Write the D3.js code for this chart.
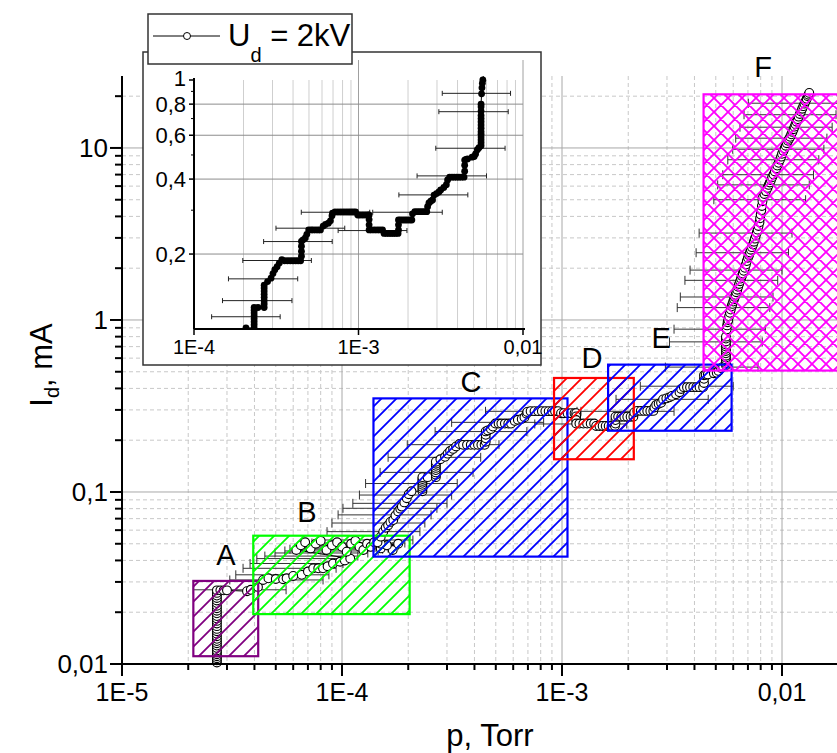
<!DOCTYPE html>
<html><head><meta charset="utf-8">
<script src="https://cdn.jsdelivr.net/npm/d3@7"></script>
<style>body{margin:0;background:#fff} svg text{font-family:"Liberation Sans",Arial,sans-serif;fill:#000}</style>
</head><body><svg id="c" width="837" height="753"></svg>
<script>
// ---------- DATA ----------
const pTorr = [
 2.7e-5,2.7e-5,2.7e-5,2.7e-5,2.7e-5,2.7e-5,2.7e-5,2.7e-5,2.7e-5,2.7e-5,2.7e-5,2.7e-5,2.7e-5,2.7e-5,2.7e-5,2.7e-5,
 2.7e-5,2.7e-5,2.7e-5,2.7e-5,2.7e-5,2.7e-5,2.7e-5,2.7e-5,2.7e-5,2.7e-5,2.7e-5,2.7e-5,2.7e-5,2.7e-5,2.7e-5,
 2.8e-5,2.9e-5,3.0e-5,3.7e-5,3.85e-5,4.15e-5,4.38e-5,4.63e-5,5.0e-5,5.4e-5,5.6e-5,6.0e-5,6.56e-5,7.0e-5,7.4e-5,7.8e-5,8.2e-5,8.6e-5,9.1e-5,9.8e-5,1.03e-4,1.09e-4,
 6.2e-5,6.5e-5,6.8e-5,7.2e-5,7.6e-5,8.0e-5,8.5e-5,9.0e-5,9.5e-5,1.0e-4,1.05e-4,1.1e-4,1.15e-4,1.2e-4,1.25e-4,1.3e-4,1.35e-4,1.4e-4,1.5e-4,1.6e-4,1.7e-4,1.8e-4,1.6e-4,1.5e-4,
 1.45e-4,1.5e-4,1.54e-4,1.58e-4,1.62e-4,1.66e-4,1.71e-4,1.75e-4,1.8e-4,1.84e-4,1.87e-4,1.92e-4,1.97e-4,2.01e-4,2.07e-4,
 2.32e-4,2.32e-4,2.32e-4,2.32e-4,2.32e-4,2.32e-4,2.32e-4,2.32e-4,
 2.45e-4,2.67e-4,2.67e-4,2.67e-4,2.67e-4,2.67e-4,2.67e-4,2.67e-4,2.67e-4,
 2.8e-4,2.94e-4,3.02e-4,3.1e-4,3.2e-4,3.3e-4,3.42e-4,
 3.55e-4,3.7e-4,3.85e-4,4.0e-4,4.15e-4,4.3e-4,4.45e-4,
 4.5e-4,4.5e-4,4.5e-4,4.5e-4,
 4.6e-4,4.75e-4,4.85e-4,4.98e-4,
 5.15e-4,5.3e-4,5.5e-4,5.7e-4,5.87e-4,
 6.1e-4,6.3e-4,6.56e-4,6.75e-4,6.9e-4,6.95e-4,
 7.2e-4,7.5e-4,7.8e-4,8.1e-4,8.4e-4,8.7e-4,9.0e-4,9.3e-4,9.6e-4,
 9.9e-4,1.02e-3,1.06e-3,1.1e-3,1.14e-3,1.16e-3,
 1.16e-3,1.16e-3,1.16e-3,
 1.2e-3,1.25e-3,1.3e-3,1.35e-3,1.4e-3,
 1.43e-3,1.48e-3,1.53e-3,1.58e-3,1.63e-3,1.68e-3,1.74e-3,
 1.75e-3,1.75e-3,1.75e-3,
 1.8e-3,1.86e-3,1.92e-3,1.98e-3,2.05e-3,2.11e-3,
 2.13e-3,2.2e-3,2.28e-3,2.36e-3,2.44e-3,2.52e-3,2.6e-3,
 2.63e-3,2.68e-3,2.75e-3,2.82e-3,2.88e-3,2.98e-3,3.08e-3,3.16e-3,3.3e-3,3.42e-3,3.48e-3,
 3.58e-3,3.7e-3,3.82e-3,3.95e-3,4.08e-3,4.22e-3,4.38e-3,
 4.42e-3,4.42e-3,4.42e-3,4.5e-3,4.6e-3,4.9e-3,5.05e-3,5.15e-3,5.28e-3,5.4e-3,
 5.56e-3,5.56e-3,5.56e-3,5.56e-3,5.56e-3,5.56e-3,5.56e-3,5.56e-3,5.56e-3,5.56e-3,5.56e-3,5.56e-3,5.56e-3,5.56e-3,
 5.6e-3,5.63e-3,5.66e-3,
 5.7e-3,5.75e-3,5.8e-3,5.85e-3,5.9e-3,5.95e-3,6.0e-3,6.05e-3,6.1e-3,6.15e-3,6.2e-3,6.26e-3,6.32e-3,6.38e-3,6.45e-3,6.51e-3,
 6.57e-3,6.63e-3,6.7e-3,6.78e-3,6.85e-3,6.92e-3,7.0e-3,7.08e-3,7.15e-3,7.22e-3,7.3e-3,7.38e-3,7.45e-3,7.52e-3,7.6e-3,7.68e-3,
 7.75e-3,7.82e-3,7.9e-3,7.95e-3,8.0e-3,8.05e-3,8.1e-3,8.15e-3,8.2e-3,8.32e-3,8.45e-3,8.58e-3,8.7e-3,8.8e-3,8.9e-3,9.02e-3,
 9.15e-3,9.28e-3,9.4e-3,9.52e-3,9.65e-3,9.78e-3,9.9e-3,1.0e-2,1.015e-2,1.028e-2,1.04e-2,1.052e-2,1.065e-2,1.078e-2,1.09e-2,1.102e-2,
 1.115e-2,1.128e-2,1.14e-2,1.152e-2,1.165e-2,1.178e-2,1.19e-2,1.205e-2,1.22e-2,1.235e-2,1.25e-2,1.265e-2,1.28e-2,1.295e-2,1.31e-2,1.32e-2,1.33e-2
];
const IdmA = [
 0.0102,0.0105,0.0108,0.0111,0.0114,0.0117,0.012,0.0124,0.0128,0.0132,0.0136,0.014,0.0145,0.015,0.0155,0.016,
 0.0166,0.0172,0.0178,0.0184,0.019,0.0197,0.0204,0.0211,0.0218,0.0226,0.0234,0.0242,0.025,0.0259,0.0268,
 0.0268,0.0268,0.0268,0.0265,0.027,0.028,0.0308,0.0315,0.0312,0.0311,0.0315,0.0325,0.033,0.0345,0.036,0.036,0.036,0.037,0.0384,0.0393,0.04,0.041,
 0.046,0.049,0.051,0.047,0.05,0.052,0.046,0.049,0.051,0.048,0.045,0.05,0.052,0.048,0.046,0.05,0.048,0.051,0.047,0.049,0.046,0.05,0.049,0.05,
 0.051,0.055,0.0588,0.062,0.064,0.067,0.0687,0.073,0.077,0.08,0.0822,0.087,0.092,0.097,0.101,
 0.101,0.104,0.107,0.11,0.113,0.116,0.119,0.122,
 0.122,0.122,0.126,0.13,0.134,0.138,0.142,0.146,0.15,
 0.155,0.16,0.167,0.173,0.178,0.184,0.19,
 0.188,0.188,0.188,0.188,0.188,0.188,0.188,
 0.196,0.205,0.215,0.225,
 0.228,0.232,0.24,0.25,
 0.25,0.25,0.25,0.25,0.25,
 0.259,0.263,0.266,0.272,0.285,0.292,
 0.295,0.295,0.295,0.295,0.295,0.295,0.295,0.295,0.295,
 0.287,0.287,0.287,0.287,0.287,0.287,
 0.275,0.262,0.25,
 0.25,0.25,0.25,0.25,0.25,
 0.242,0.242,0.242,0.242,0.242,0.242,0.242,
 0.25,0.262,0.274,
 0.274,0.274,0.274,0.274,0.274,0.274,
 0.29,0.296,0.296,0.296,0.296,0.296,0.296,
 0.31,0.321,0.326,0.33,0.345,0.35,0.355,0.362,0.37,0.38,0.397,
 0.407,0.407,0.407,0.407,0.407,0.407,0.407,
 0.43,0.455,0.477,0.48,0.482,0.49,0.493,0.505,0.525,0.535,
 0.545,0.56,0.575,0.59,0.605,0.62,0.64,0.66,0.68,0.7,0.72,0.75,0.78,0.8,
 0.88,0.93,0.97,
 1.0,1.05,1.1,1.15,1.2,1.24,1.28,1.32,1.36,1.4,1.45,1.5,1.56,1.62,1.68,1.74,
 1.8,1.86,1.93,2.01,2.1,2.2,2.3,2.38,2.47,2.56,2.65,2.75,2.85,2.97,3.1,3.22,
 3.35,3.52,3.7,3.9,4.1,4.35,4.6,4.9,5.2,5.4,5.6,5.85,6.1,6.3,6.5,6.75,
 7.0,7.3,7.6,7.9,8.2,8.55,8.9,9.25,9.6,9.95,10.3,10.65,11.0,11.3,11.6,12.0,
 12.4,12.85,13.3,13.75,14.2,14.7,15.2,15.75,16.3,16.9,17.5,18.1,18.7,19.3,20.0,20.4,20.9
];
// horizontal error bars: current level, pressure low, pressure high
const errI  = [0.027,0.0308,0.033,0.036,0.0384,0.041,0.0424,0.0442,0.0454,0.0465,0.0472,0.048,0.049,0.0505,0.0526,0.0588,0.066,0.0736,0.0804,0.0859,0.096,
  0.112,0.130,0.159,0.1884,0.2245,0.254,0.2944,0.2485,0.2944,0.3456,0.412,0.532,0.746,0.884,
  1.18,1.36,1.7,1.95,2.46,3.2,5.0,6.1,6.99,8.54,9.83,11.4,13.2,15.6,18.2];
const errPlo = [2.11e-5,3.09e-5,3.29e-5,3.55e-5,3.82e-5,4.1e-5,4.46e-5,4.96e-5,5.5e-5,5.8e-5,6.1e-5,6.4e-5,6.8e-5,7.3e-5,7.95e-5,8.55e-5,9.0e-5,9.6e-5,1.01e-4,1.12e-4,1.2e-4,
  1.28e-4,1.49e-4,1.62e-4,1.98e-4,2.65e-4,3.15e-4,4.49e-4,7.52e-4,1.22e-3,1.76e-3,2.27e-3,2.95e-3,3.08e-3,3.23e-3,
  3.34e-3,3.45e-3,3.62e-3,3.82e-3,4.07e-3,4.2e-3,4.9e-3,5.1e-3,5.38e-3,5.67e-3,5.97e-3,6.16e-3,6.44e-3,6.72e-3,7.03e-3];
const errPhi = [5.57e-5,8.2e-5,8.72e-5,9.4e-5,1.01e-4,1.09e-4,1.18e-4,1.31e-4,1.46e-4,1.53e-4,1.62e-4,1.7e-4,1.8e-4,1.93e-4,2.1e-4,2.26e-4,2.38e-4,2.54e-4,2.7e-4,3.0e-4,3.15e-4,
  3.34e-4,3.94e-4,4.27e-4,5.17e-4,6.92e-4,8.25e-4,1.17e-3,1.97e-3,3.23e-3,4.62e-3,6.0e-3,7.78e-3,8.13e-3,8.4e-3,
  8.8e-3,9.1e-3,9.56e-3,1.0e-2,1.07e-2,1.11e-2,1.28e-2,1.33e-2,1.39e-2,1.47e-2,1.55e-2,1.6e-2,1.69e-2,1.76e-2,1.85e-2];
// regions
const regionNames  = ["A","B","C","D","E","F"];
const regionPlo    = [2.11e-5,3.95e-5,1.39e-4,9.2e-4,1.62e-3,4.4e-3];
const regionPhi    = [4.16e-5,2.03e-4,1.059e-3,2.12e-3,5.9e-3,3.0e-2];
const regionIlo    = [0.0111,0.0195,0.0421,0.155,0.227,0.508];
const regionIhi    = [0.0304,0.0557,0.35,0.46,0.55,20.5];
const regionColors = ["#800080","#00ff00","#0000ff","#ff0000","#0000ff","#ff00ff"];
const regionCross  = [false,false,false,false,false,true];
const labelP = [2.97e-5,6.93e-5,3.86e-4,1.37e-3,2.82e-3,8.2e-3];
const labelI = [0.0376,0.0669,0.3815,0.526,0.688,25.9];
// ticks
const xMajorTicks = [1e-5,1e-4,1e-3,1e-2];
const xMajorLabels = ["1E-5","1E-4","1E-3","0,01"];
const yMajorTicks = [0.01,0.1,1,10];
const yMajorLabels = ["0,01","0,1","1","10"];
const insetXTicks = [1e-4,1e-3,1e-2];
const insetXLabels = ["1E-4","1E-3","0,01"];
const insetYTicks = [0.2,0.4,0.6,0.8,1];
const insetYLabels = ["0,2","0,4","0,6","0,8","1"];
const legendLabel = "U", legendSub = "d", legendRest = " = 2kV";

// ---------- DRAW ----------
const svg = d3.select("#c");
const pts = pTorr.map((p,i)=>({p, I:IdmA[i]}));
const bars = errI.map((I,i)=>({I, lo:errPlo[i], hi:errPhi[i]}));

const x = d3.scaleLog().domain([1e-5, 0.01778]).range([122, 837]);
const y = d3.scaleLog().domain([0.01, 26.2]).range([664, 76]);

function minors(lo, hi){ const out=[]; for(let e=-6;e<=2;e++) for(let m=2;m<=9;m++){const v=+(m*Math.pow(10,e)).toPrecision(3); if(v>lo&&v<hi) out.push(v);} return out; }
const xMin = minors(1e-5, 0.01778), yMin = minors(0.01, 26.2);

const grid = svg.append("g");
grid.selectAll(".vx").data(xMin).join("line").attr("x1",d=>x(d)).attr("x2",d=>x(d)).attr("y1",76).attr("y2",664)
  .attr("stroke","#c8c8c8").attr("stroke-dasharray","4,3");
grid.selectAll(".hy").data(yMin).join("line").attr("class","hy").attr("y1",d=>y(d)).attr("y2",d=>y(d)).attr("x1",122).attr("x2",837)
  .attr("stroke","#c8c8c8").attr("stroke-dasharray","4,3");
grid.selectAll(".vX").data(xMajorTicks.slice(1)).join("line").attr("class","vX").attr("x1",d=>x(d)).attr("x2",d=>x(d)).attr("y1",76).attr("y2",664)
  .attr("stroke","#a8a8a8");
grid.selectAll(".hY").data(yMajorTicks.slice(1)).join("line").attr("class","hY").attr("y1",d=>y(d)).attr("y2",d=>y(d)).attr("x1",122).attr("x2",837)
  .attr("stroke","#a8a8a8");

// error bars (main)
const eb = svg.append("g").attr("stroke","#333").attr("stroke-width",1).attr("fill","none");
eb.selectAll("path").data(bars).join("path").attr("d",d=>{
  const yy=y(d.I), a=x(d.lo), b=x(d.hi);
  return `M${a},${yy}H${b}M${a},${yy-4.5}V${yy+4.5}M${b},${yy-4.5}V${yy+4.5}`;});

// line + markers (main)
svg.append("path").datum(pts).attr("d",d3.line().x(d=>x(d.p)).y(d=>y(d.I)))
  .attr("fill","none").attr("stroke","#000").attr("stroke-width",1);
svg.append("g").selectAll("circle").data(pts).join("circle").attr("cx",d=>x(d.p)).attr("cy",d=>y(d.I)).attr("r",4.4)
  .attr("fill","#fff").attr("stroke","#000").attr("stroke-width",1.1);

// hatch patterns
const defs = svg.append("defs");
regionNames.forEach((n,i)=>{
  const s = regionCross[i]?14:15;
  const pat = defs.append("pattern").attr("id","h"+n).attr("patternUnits","userSpaceOnUse").attr("width",s).attr("height",s);
  let d = `M0,${s}L${s},0M-2,2L2,-2M${s-2},${s+2}L${s+2},${s-2}`;
  if(regionCross[i]) d += `M0,0L${s},${s}M-2,${s-2}L2,${s+2}M${s-2},-2L${s+2},2`;
  pat.append("path").attr("d",d).attr("stroke",regionColors[i]).attr("stroke-width",1.8).attr("fill","none");
});
const reg = svg.append("g");
regionNames.forEach((n,i)=>{
  reg.append("rect").attr("x",x(regionPlo[i])).attr("y",y(regionIhi[i]))
    .attr("width",x(regionPhi[i])-x(regionPlo[i])).attr("height",y(regionIlo[i])-y(regionIhi[i]))
    .attr("fill",`url(#h${n})`).attr("stroke",regionColors[i]).attr("stroke-width",2.2);
  svg.append("text").attr("x",x(labelP[i])).attr("y",y(labelI[i])).attr("text-anchor","middle")
    .attr("font-size",29).text(n);
});

// main axes
const ax = svg.append("g").attr("stroke","#000");
ax.append("line").attr("x1",110).attr("x2",837).attr("y1",664).attr("y2",664).attr("stroke-width",2);
ax.append("line").attr("x1",122).attr("x2",122).attr("y1",76).attr("y2",664).attr("stroke-width",2);
ax.selectAll(".xt").data(xMajorTicks).join("line").attr("class","xt").attr("x1",d=>x(d)).attr("x2",d=>x(d)).attr("y1",664).attr("y2",676).attr("stroke-width",2);
ax.selectAll(".xm").data(xMin).join("line").attr("class","xm").attr("x1",d=>x(d)).attr("x2",d=>x(d)).attr("y1",664).attr("y2",670).attr("stroke-width",2);
ax.selectAll(".yt").data(yMajorTicks).join("line").attr("class","yt").attr("y1",d=>y(d)).attr("y2",d=>y(d)).attr("x1",110).attr("x2",122).attr("stroke-width",2);
ax.selectAll(".ym").data(yMin).join("line").attr("class","ym").attr("y1",d=>y(d)).attr("y2",d=>y(d)).attr("x1",115).attr("x2",122).attr("stroke-width",2);
svg.append("g").selectAll("text").data(xMajorTicks).join("text").attr("x",d=>x(d)).attr("y",701)
  .attr("text-anchor","middle").attr("font-size",25).text((d,i)=>xMajorLabels[i]);
svg.append("g").selectAll("text").data(yMajorTicks).join("text").attr("x",108).attr("y",d=>y(d)+9)
  .attr("text-anchor","end").attr("font-size",26).text((d,i)=>yMajorLabels[i]);
svg.append("text").attr("x",490).attr("y",746).attr("text-anchor","middle").attr("font-size",31).text("p, Torr");
const yt = svg.append("text").attr("transform","translate(52,365) rotate(-90)").attr("text-anchor","middle").attr("font-size",31);
yt.append("tspan").text("I");
yt.append("tspan").attr("font-size",20).attr("dy",7).text("d");
yt.append("tspan").attr("dy",-7).text(", mA");

// ---------- INSET ----------
const ins = svg.append("g");
ins.append("rect").attr("x",143).attr("y",52).attr("width",398).attr("height",313).attr("fill","#fff").attr("stroke","#333").attr("stroke-width",1.5);
const xi = d3.scaleLog().domain([1e-4,1e-2]).range([194,523]);
const yi = d3.scaleLog().domain([0.1,1]).range([329,80]);
const xiMin = minors(1e-4,1e-2);
ins.selectAll(".gv").data(xiMin).join("line").attr("class","gv").attr("x1",d=>xi(d)).attr("x2",d=>xi(d)).attr("y1",80).attr("y2",329).attr("stroke","#cfcfcf");
ins.selectAll(".gV").data([1e-3,1e-2]).join("line").attr("class","gV").attr("x1",d=>xi(d)).attr("x2",d=>xi(d)).attr("y1",60).attr("y2",329).attr("stroke","#a0a0a0");
ins.selectAll(".gh").data(insetYTicks.slice(0,4)).join("line").attr("class","gh").attr("y1",d=>yi(d)).attr("y2",d=>yi(d)).attr("x1",194).attr("x2",523).attr("stroke","#8c8c8c");
const clip = defs.append("clipPath").attr("id","ic");
clip.append("rect").attr("x",194).attr("y",76).attr("width",332).attr("height",254);
const ip = ins.append("g").attr("clip-path","url(#ic)");
ip.append("g").attr("stroke","#222").attr("fill","none").selectAll("path").data(bars.filter(d=>d.I>0.1&&d.I<1)).join("path").attr("d",d=>{
  const yy=yi(d.I), a=xi(d.lo), b=xi(d.hi);
  return `M${a},${yy}H${b}M${a},${yy-2.5}V${yy+2.5}M${b},${yy-2.5}V${yy+2.5}`;});
ip.append("path").datum(pts).attr("d",d3.line().x(d=>xi(d.p)).y(d=>yi(d.I))).attr("fill","none").attr("stroke","#000").attr("stroke-width",1);
ip.append("g").selectAll("circle").data(pts.filter(d=>d.I>0.095&&d.I<1.05)).join("circle").attr("cx",d=>xi(d.p)).attr("cy",d=>yi(d.I)).attr("r",3.4).attr("fill","#000");
const iax = ins.append("g").attr("stroke","#000");
iax.append("line").attr("x1",194).attr("x2",525).attr("y1",329).attr("y2",329).attr("stroke-width",2);
iax.append("line").attr("x1",194).attr("x2",194).attr("y1",78).attr("y2",329).attr("stroke-width",2);
iax.selectAll(".t").data(insetYTicks).join("line").attr("class","t").attr("y1",d=>yi(d)).attr("y2",d=>yi(d)).attr("x1",189).attr("x2",194).attr("stroke-width",1.5);
iax.selectAll(".m").data([0.3,0.5,0.7,0.9]).join("line").attr("class","m").attr("y1",d=>yi(d)).attr("y2",d=>yi(d)).attr("x1",191).attr("x2",194).attr("stroke-width",1);
iax.selectAll(".xt").data(insetXTicks).join("line").attr("class","xt").attr("x1",d=>xi(d)).attr("x2",d=>xi(d)).attr("y1",329).attr("y2",335).attr("stroke-width",1.5);
ins.selectAll(".yl").data(insetYTicks).join("text").attr("class","yl").attr("x",186).attr("y",(d,i)=>yi(d)+(i===4?6:8))
  .attr("text-anchor","end").attr("font-size",22).text((d,i)=>insetYLabels[i]);
ins.selectAll(".xl").data(insetXTicks).join("text").attr("class","xl").attr("x",d=>xi(d)).attr("y",354)
  .attr("text-anchor","middle").attr("font-size",20).text((d,i)=>insetXLabels[i]);

// ---------- LEGEND ----------
const lg = svg.append("g");
lg.append("rect").attr("x",148).attr("y",14).attr("width",204).attr("height",50).attr("fill","#fff").attr("stroke","#333").attr("stroke-width",1.5);
lg.append("line").attr("x1",153).attr("x2",220).attr("y1",36).attr("y2",36).attr("stroke","#000");
lg.append("circle").attr("cx",187).attr("cy",36).attr("r",3.5).attr("fill","#fff").attr("stroke","#000");
const lt = lg.append("text").attr("x",228).attr("y",46).attr("font-size",31);
lt.append("tspan").text(legendLabel);
lt.append("tspan").attr("font-size",20).attr("dy",16).text(legendSub);
lt.append("tspan").attr("dy",-16).text(legendRest);
</script></body></html>
